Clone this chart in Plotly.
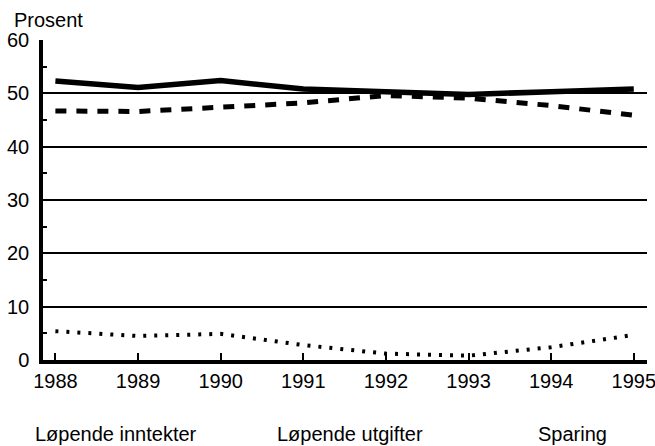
import plotly.graph_objects as go

years = [1988, 1989, 1990, 1991, 1992, 1993, 1994, 1995]
inntekter = [52.3, 51.1, 52.4, 50.8, 50.3, 49.8, 50.3, 50.8]
utgifter = [46.7, 46.6, 47.4, 48.2, 49.6, 49.1, 47.7, 45.9]
sparing = [5.4, 4.5, 4.9, 2.8, 1.2, 0.8, 2.4, 4.7]
series_names = ["Løpende inntekter", "Løpende utgifter", "Sparing"]
y_ticks = [0, 10, 20, 30, 40, 50, 60]
y_minor = [5, 15, 25, 35, 45, 55]
y_title = "Prosent"

FONT = "Liberation Sans, Arial, Helvetica, sans-serif"
FS = 20

fig = go.Figure()
fig.add_trace(go.Scatter(x=years, y=inntekter, mode="lines", name=series_names[0],
                         line=dict(color="black", width=5.5)))
fig.add_trace(go.Scatter(x=years, y=utgifter, mode="lines", name=series_names[1],
                         line=dict(color="black", width=5, dash="11px,10px")))
fig.add_trace(go.Scatter(x=years, y=sparing, mode="lines", name=series_names[2],
                         line=dict(color="black", width=4, dash="3px,8px")))

W, H = 655, 446
# plot box in page pixels
px_left, px_right, px_top, px_bottom = 43, 647, 40, 360
L, T = px_left, px_top
R, B = W - px_right, H - px_bottom
pw = px_right - px_left
ph = px_bottom - px_top

fig.update_layout(
    width=W, height=H,
    margin=dict(l=L, r=R, t=T, b=B, autoexpand=False),
    paper_bgcolor="white", plot_bgcolor="white",
    showlegend=False,
    font=dict(family=FONT, size=FS, color="black"),
    xaxis=dict(range=[1987.85, 1995.16], tickvals=years, ticktext=[str(y) for y in years],
               automargin=False, ticklabeloverflow="allow",
               showgrid=False, zeroline=False, showline=True, linecolor="black", linewidth=3.5,
               ticks="inside", ticklen=7, tickwidth=2, tickcolor="black",
               tickfont=dict(size=FS, family=FONT)),
    yaxis=dict(range=[0, 60], tickvals=y_ticks, showgrid=True, gridcolor="black", gridwidth=2,
               automargin=False, ticklabeloverflow="allow",
               zeroline=False, showline=True, linecolor="black", linewidth=3.5,
               ticks="", tickfont=dict(size=FS, family=FONT), ticklabelstandoff=6,
               minor=dict(tickvals=y_minor, ticks="inside", ticklen=4, tickwidth=2,
                          tickcolor="black", showgrid=False)),
)

# y-axis title (page pixels: left x=12, centre y=20)
fig.add_annotation(text=y_title, xref="paper", yref="paper",
                   x=(12 - px_left) / pw, y=1 + (px_top - 20) / ph,
                   xanchor="left", yanchor="middle", showarrow=False,
                   font=dict(size=FS, family=FONT))

# legend texts as annotations (page pixel centres)
legend_centers = [116, 350, 572]
for name, cx in zip(series_names, legend_centers):
    fig.add_annotation(text=name, xref="paper", yref="paper",
                       x=(cx - px_left) / pw, y=-(434 - px_bottom) / ph,
                       xanchor="center", yanchor="middle", showarrow=False,
                       font=dict(size=FS, family=FONT))

fig.write_html("out.html", config={"displayModeBar": False},
               post_script="document.body.style.margin='0';document.body.style.overflow='hidden';")
